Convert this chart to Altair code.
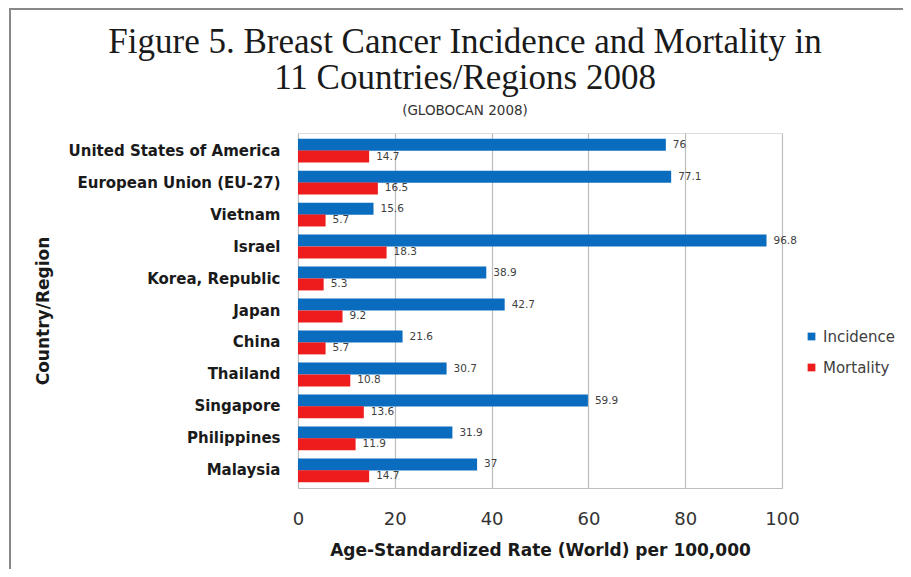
import altair as alt
import pandas as pd

countries = ["United States of America", "European Union (EU-27)", "Vietnam", "Israel",
             "Korea, Republic", "Japan", "China", "Thailand", "Singapore", "Philippines", "Malaysia"]
incidence = [76, 77.1, 15.6, 96.8, 38.9, 42.7, 21.6, 30.7, 59.9, 31.9, 37]
mortality = [14.7, 16.5, 5.7, 18.3, 5.3, 9.2, 5.7, 10.8, 13.6, 11.9, 14.7]
series = ["Incidence", "Mortality"]
colors = ["#0A6CBE", "#EE1C1C"]
title_lines = ["Figure 5. Breast Cancer Incidence and Mortality in", "11 Countries/Regions 2008"]
subtitle_text = "(GLOBOCAN 2008)"

rows = []
for c, i, m in zip(countries, incidence, mortality):
    rows.append({"country": c, "series": series[0], "value": i, "label": f"{i:g}"})
    rows.append({"country": c, "series": series[1], "value": m, "label": f"{m:g}"})
df = pd.DataFrame(rows)

SANS = "DejaVu Sans"

y_enc = alt.Y("country:N", sort=countries,
              scale=alt.Scale(paddingInner=0.26, paddingOuter=0.18),
              axis=alt.Axis(title="Country/Region", ticks=False, domain=False,
                            labelFont=SANS, labelFontWeight="bold", labelFontSize=15,
                            labelColor="#1a1a1a", labelPadding=18, labelLimit=320,
                            titleFont=SANS, titleFontWeight="bold", titleFontSize=17,
                            titleColor="#1a1a1a", titlePadding=46))
yoff = alt.YOffset("series:N", sort=series)
x_enc = alt.X("value:Q", scale=alt.Scale(domain=[0, 100]),
              axis=alt.Axis(values=[0, 20, 40, 60, 80, 100], title="Age-Standardized Rate (World) per 100,000",
                            grid=True, gridColor="#BDBDBD", gridWidth=1.2, ticks=False,
                            domainColor="#BDBDBD", labelFont=SANS, labelFontSize=18,
                            labelColor="#333333", labelPadding=22, labelFlush=False,
                            titleFont=SANS, titleFontWeight="bold", titleFontSize=17,
                            titleColor="#1a1a1a", titlePadding=14))

bars = alt.Chart(df).mark_bar(size=12).encode(
    y=y_enc, yOffset=yoff, x=x_enc,
    color=alt.Color("series:N", sort=series,
                    scale=alt.Scale(domain=series, range=colors),
                    legend=alt.Legend(title=None, orient="none", legendX=506, legendY=196,
                                      symbolType="square", symbolSize=60, labelFont=SANS,
                                      labelFontSize=15, labelColor="#404040", rowPadding=15)),
)
labels = alt.Chart(df).mark_text(align="left", dx=7, fontSize=10.5, font=SANS, color="#404040").encode(
    y=alt.Y("country:N", sort=countries), yOffset=yoff, x="value:Q", text="label:N")

frame_left = alt.Chart(df).mark_rule(color="#888888", strokeWidth=2, clip=False).encode(
    x=alt.value(-288), y=alt.value(-124), y2=alt.value(445))
frame_top = alt.Chart(df).mark_rule(color="#888888", strokeWidth=2, clip=False).encode(
    x=alt.value(-289), x2=alt.value(615), y=alt.value(-124))

t1 = alt.Chart(pd.DataFrame({"t": [title_lines[0]]})).mark_text(
    font="Liberation Serif", fontSize=35, color="#1a1a1a", align="center", baseline="middle", clip=False
).encode(text="t:N", x=alt.value(167), y=alt.value(-91))
t2 = alt.Chart(pd.DataFrame({"t": [title_lines[1]]})).mark_text(
    font="Liberation Serif", fontSize=35, color="#1a1a1a", align="center", baseline="middle", clip=False
).encode(text="t:N", x=alt.value(167), y=alt.value(-55))
t3 = alt.Chart(pd.DataFrame({"t": [subtitle_text]})).mark_text(
    font=SANS, fontSize=13.5, color="#333333", align="center", baseline="middle", clip=False
).encode(text="t:N", x=alt.value(167), y=alt.value(-22))

chart = alt.layer(frame_left, frame_top, bars, labels, t1, t2, t3).properties(
    width=484, height=355,
    autosize=alt.AutoSizeParams(type="none"),
    padding={"left": 290, "top": 125, "right": 121, "bottom": 81},
).configure_view(stroke=None).configure(background="white")

chart.save("out.html", embed_options={"renderer": "svg", "actions": False})
